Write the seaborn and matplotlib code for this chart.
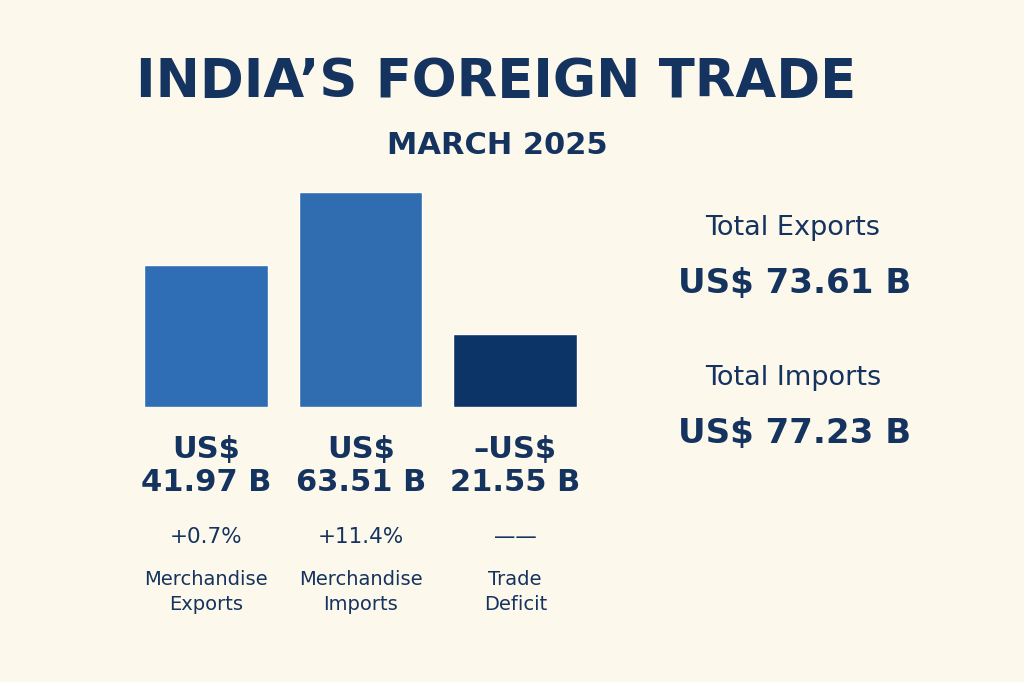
import matplotlib
matplotlib.use("Agg")
import matplotlib.pyplot as plt
import seaborn as sns
import pandas as pd

# data
categories = ["Merchandise\nExports", "Merchandise\nImports", "Trade\nDeficit"]
values = [41.97, 63.51, 21.55]
value_labels = ["US$\n41.97 B", "US$\n63.51 B", "\u2013US$\n21.55 B"]
changes = ["+0.7%", "+11.4%", "\u2014\u2014"]
bar_colors = ["#2F6DB5", "#2F6DB0", "#0C3467"]
totals = [("Total Exports", "US$ 73.61 B"), ("Total Imports", "US$ 77.23 B")]

bg = "#FDF8EC"
navy = "#15335F"

sns.set_theme(style="white")
plt.rcParams["font.family"] = ["DejaVu Sans"]

fig = plt.figure(figsize=(10.24, 6.82), dpi=100, facecolor=bg)
ax = fig.add_axes([129 / 1024, 275 / 682, 463 / 1024, 215 / 682])
ax.set_facecolor(bg)

df = pd.DataFrame({"cat": categories, "val": values})
sns.barplot(data=df, x="cat", y="val", hue="cat", palette=bar_colors,
            legend=False, width=0.8, ax=ax, saturation=1)
ax.set_xlim(-0.5, 2.5)
ax.set_ylim(0, max(values))
ax.axis("off")

fig.text(0.484, 0.88, "INDIA\u2019S FOREIGN TRADE", ha="center", va="center",
         fontsize=38, fontweight="bold", color=navy)
fig.text(0.486, 0.786, "MARCH 2025", ha="center", va="center",
         fontsize=22, fontweight="bold", color=navy)

for i, (vl, ch, cat) in enumerate(zip(value_labels, changes, categories)):
    x = (129 + 154.5 * (i + 0.5)) / 1024
    fig.text(x, 1 - 466 / 682, vl, ha="center", va="center", fontsize=22,
             fontweight="bold", color=navy, linespacing=1.2)
    fig.text(x, 1 - 537 / 682, ch, ha="center", va="center", fontsize=15.5,
             color=navy, fontweight="medium")
    fig.text(x, 1 - 592 / 682, cat, ha="center", va="center", fontsize=14,
             color=navy, linespacing=1.35)

for j, (lab, val) in enumerate(totals):
    y0 = 228 + j * 150
    fig.text(793 / 1024, 1 - y0 / 682, lab, ha="center", va="center",
             fontsize=19.5, color=navy)
    fig.text(795 / 1024, 1 - (y0 + 55) / 682, val, ha="center", va="center",
             fontsize=24.5, fontweight="bold", color=navy)

fig.savefig("out.png", dpi=100, facecolor=bg)
